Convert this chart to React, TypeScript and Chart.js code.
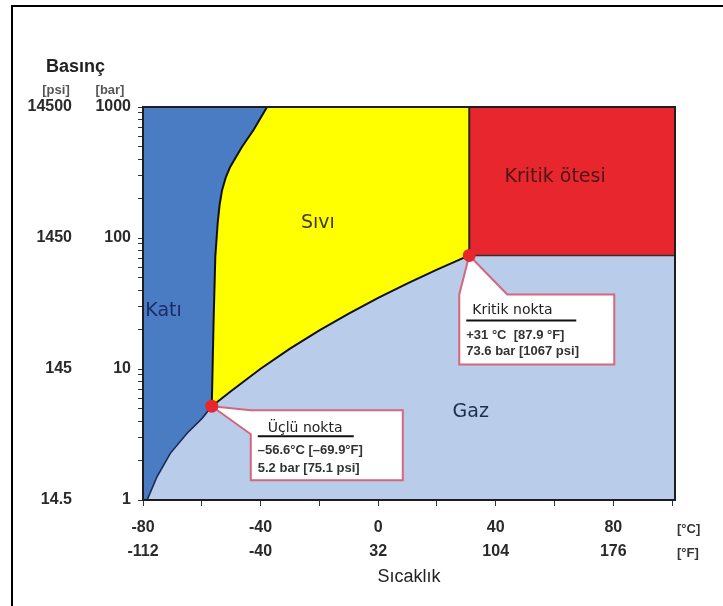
import React, { useEffect, useRef } from 'react';
import { Chart, registerables } from 'chart.js';

Chart.register(...registerables);

// ---------- data ----------
const celsiusTicks = [-80, -40, 0, 40, 80];
const fahrenheitTicks = [-112, -40, 32, 104, 176];
const barTicks = [1, 10, 100, 1000];
const psiTicks = ['14.5', '145', '1450', '14500'];

const sublimationT = [-78.6, -75.2, -70.7, -65.0, -59.9, -56.6];
const sublimationP = [1.0, 1.51, 2.27, 3.23, 4.2, 5.2];
const meltingT = [-56.6, -56.0, -55.4, -54.6, -53.95, -53.1, -51.8, -50.3, -46.3, -42.4, -37.8];
const meltingP = [5.2, 22.3, 72, 129, 178, 232, 292, 350, 498, 667, 1000];
const vaporT = [-56.6, -50, -40, -30, -20, -10, 0, 10, 20, 31];
const vaporP = [5.2, 6.8, 10.05, 14.3, 19.7, 26.5, 34.9, 45.0, 57.3, 73.6];
const triplePoint = { t: -56.6, p: 5.2 };
const criticalPoint = { t: 31, p: 73.6 };
const tempRange = [-80, 101];
const pressRange = [1, 1000];

// ---------- styles ----------
const W = 723;
const H = 606;
const SANS = '"Liberation Sans", Arial, sans-serif';
const DEJAVU = '"DejaVu Sans", sans-serif';
const GAS = '#b9cdea';
const SOLID = '#4a7cc4';
const LIQUID = '#ffff00';
const SUPER = '#e7272d';
const MARK = '#e8262d';
const CALLOUT = '#d3677d';

const pts = (ts: number[], ps: number[]) => ts.map((t, i) => ({ x: t, y: ps[i] }));

function makeDatasets() {
  const [T0, T1] = tempRange;
  const [P0, P1] = pressRange;
  const sub = pts(sublimationT, sublimationP);
  const melt = pts(meltingT, meltingP);
  const vap = pts(vaporT, vaporP);
  const crit = { x: criticalPoint.t, y: criticalPoint.p };
  const trip = { x: triplePoint.t, y: triplePoint.p };
  const polygon = (data: any[], color: string, order: number) => ({
    data, fill: 'shape', backgroundColor: color, borderColor: 'transparent', borderWidth: 0,
    pointRadius: 0, tension: 0, order,
  });
  const curve = (data: any[], color: string, width: number) => ({
    data, fill: false, borderColor: color, borderWidth: width, pointRadius: 0, tension: 0, order: 4,
  });
  return [
    polygon([{ x: T0, y: P0 }, { x: T1, y: P0 }, { x: T1, y: P1 }, { x: T0, y: P1 }], GAS, 10),
    polygon([{ x: T0, y: P0 }, ...sub, ...melt.slice(1), { x: T0, y: P1 }], SOLID, 9),
    polygon([...melt, { x: crit.x, y: P1 }, ...[...vap].reverse()], LIQUID, 8),
    polygon([crit, { x: T1, y: crit.y }, { x: T1, y: P1 }, { x: crit.x, y: P1 }], SUPER, 7),
    curve(sub, '#1b2950', 1.6),
    curve(melt, '#111111', 2),
    curve(vap, '#111111', 2),
    curve([crit, { x: crit.x, y: P1 }], '#2a2020', 2),
    curve([crit, { x: T1, y: crit.y }], '#3a2a2a', 1.5),
    {
      data: [trip, crit], showLine: false, pointRadius: 6.5, pointHoverRadius: 6.5,
      pointBackgroundColor: MARK, pointBorderColor: MARK, pointBorderWidth: 0, order: 0,
    },
  ];
}
const MARKER_INDEX = 9;

function logTicks() {
  const out: { value: number }[] = [];
  for (let e = 0; e < 3; e++) for (let s = 1; s < 10; s++) out.push({ value: s * Math.pow(10, e) });
  out.push({ value: 1000 });
  return out;
}

function drawCallout(ctx: CanvasRenderingContext2D, path: number[][]) {
  ctx.save();
  ctx.beginPath();
  ctx.moveTo(path[0][0], path[0][1]);
  for (let i = 1; i < path.length; i++) ctx.lineTo(path[i][0], path[i][1]);
  ctx.closePath();
  ctx.fillStyle = '#ffffff';
  ctx.fill();
  ctx.strokeStyle = CALLOUT;
  ctx.lineWidth = 2;
  ctx.lineJoin = 'miter';
  ctx.stroke();
  ctx.restore();
}

function calloutText(ctx: CanvasRenderingContext2D, L: number, T: number, title: string, titleDx: number,
  titleDy: number, ulDy: number, ulW: number, l2: string, l2Dy: number, l3: string, l3Dy: number) {
  ctx.save();
  ctx.textBaseline = 'middle';
  ctx.textAlign = 'left';
  ctx.fillStyle = '#222';
  ctx.font = `14px ${DEJAVU}`;
  ctx.fillText(title, L + titleDx, T + titleDy);
  ctx.strokeStyle = '#111';
  ctx.lineWidth = 2;
  ctx.beginPath();
  ctx.moveTo(L + 7, T + ulDy);
  ctx.lineTo(L + 7 + ulW, T + ulDy);
  ctx.stroke();
  ctx.fillStyle = '#333';
  ctx.font = `bold 13px ${SANS}`;
  ctx.fillText(l2, L + 7, T + l2Dy);
  ctx.fillText(l3, L + 7, T + l3Dy);
  ctx.restore();
}

const calloutPlugin = {
  id: 'callouts',
  beforeDatasetDraw(chart: any, args: any) {
    if (args.index !== MARKER_INDEX) return;
    const { ctx } = chart;
    const xs = chart.scales.x;
    const ys = chart.scales.y;
    const cx = xs.getPixelForValue(criticalPoint.t);
    const cy = ys.getPixelForValue(criticalPoint.p);
    let L = cx - 10, T = cy + 39, R = L + 155, B = T + 70;
    drawCallout(ctx, [[cx, cy], [L + 48, T], [R, T], [R, B], [L, B], [L, T]]);
    calloutText(ctx, L, T, 'Kritik nokta', 13, 16, 26, 110, '+31 °C  [87.9 °F]', 41, '73.6 bar [1067 psi]', 57);
    const tx = xs.getPixelForValue(triplePoint.t);
    const ty = ys.getPixelForValue(triplePoint.p);
    L = tx + 39; T = ty + 4; R = L + 152; B = T + 70;
    drawCallout(ctx, [[tx, ty], [L, T], [R, T], [R, B], [L, B], [L, T + 24]]);
    calloutText(ctx, L, T, 'Üçlü nokta', 17, 18, 26, 96, '–56.6°C [–69.9°F]', 40, '5.2 bar [75.1 psi]', 58);
  },
};

const labelPlugin = {
  id: 'labels',
  afterDatasetsDraw(chart: any) {
    const { ctx, chartArea: a } = chart;
    const xs = chart.scales.x;
    const ys = chart.scales.y;
    ctx.save();
    ctx.strokeStyle = '#1e1e1e';
    ctx.lineWidth = 2;
    ctx.strokeRect(a.left, a.top, a.right - a.left, a.bottom - a.top);
    ctx.textBaseline = 'middle';
    ctx.font = `19px ${DEJAVU}`;
    const put = (text: string, t: number, p: number, color: string, align: CanvasTextAlign) => {
      ctx.fillStyle = color;
      ctx.textAlign = align;
      ctx.fillText(text, xs.getPixelForValue(t), ys.getPixelForValue(p));
    };
    put('Katı', -79.2, 27.5, '#1d2b63', 'left');
    put('Sıvı', -20.5, 130, '#3b3b22', 'center');
    put('Kritik ötesi', 60.2, 290, '#4d1515', 'center');
    put('Gaz', 31.5, 4.7, '#1f2d4d', 'center');
    ctx.restore();
  },
  afterDraw(chart: any) {
    const { ctx, chartArea: a } = chart;
    const xs = chart.scales.x;
    ctx.save();
    ctx.strokeStyle = '#000';
    ctx.lineWidth = 2;
    ctx.beginPath();
    ctx.moveTo(12, H);
    ctx.lineTo(12, 6);
    ctx.lineTo(W, 6);
    ctx.stroke();
    ctx.textBaseline = 'middle';
    ctx.textAlign = 'left';
    ctx.fillStyle = '#222';
    ctx.font = `bold 18px ${SANS}`;
    ctx.fillText('Basınç', 46, a.top - 40);
    ctx.fillStyle = '#555';
    ctx.font = `bold 13px ${SANS}`;
    ctx.textAlign = 'center';
    ctx.fillText('[psi]', 56, a.top - 17);
    ctx.fillText('[bar]', 110, a.top - 17);
    ctx.fillStyle = '#333';
    ctx.textAlign = 'left';
    const y1 = xs.top + 6 + 10 + 12;
    ctx.fillText('[°C]', a.right + 2, y1 + 1);
    ctx.fillText('[°F]', a.right + 2, y1 + 25);
    ctx.restore();
  },
};

export default function App() {
  const ref = useRef<HTMLCanvasElement | null>(null);
  useEffect(() => {
    if (!ref.current) return;
    const tickFont = { family: SANS, size: 16, weight: 'bold' as const, lineHeight: 1.5 };
    const chart = new Chart(ref.current, {
      type: 'line',
      data: { datasets: makeDatasets() as any },
      options: {
        animation: false,
        responsive: false,
        events: [],
        layout: { padding: { left: 0, top: 107, right: 48, bottom: 0 } },
        plugins: { legend: { display: false }, tooltip: { enabled: false }, title: { display: false } },
        scales: {
          x: {
            type: 'linear',
            min: tempRange[0],
            max: tempRange[1],
            afterBuildTicks: (s: any) => {
              const t = [];
              for (let v = -80; v <= 100; v += 20) t.push({ value: v });
              s.ticks = t;
            },
            afterFit: (s: any) => { s.height = 106; },
            grid: { display: true, drawOnChartArea: false, drawTicks: true, tickLength: 6, color: '#333', lineWidth: 1 },
            border: { display: true, color: '#1e1e1e', width: 2, z: 1 },
            ticks: {
              autoSkip: false, maxRotation: 0, minRotation: 0, padding: 10, color: '#2a2a2a', font: tickFont,
              callback: (v: any) => {
                const i = celsiusTicks.indexOf(Number(v));
                return i >= 0 ? [String(celsiusTicks[i]), String(fahrenheitTicks[i])] : '';
              },
            },
            title: { display: true, text: 'Sıcaklık', color: '#222', font: { family: SANS, size: 18 }, padding: { top: 0, bottom: 18 } },
          },
          y: {
            type: 'logarithmic',
            position: 'left',
            weight: 0,
            min: pressRange[0],
            max: pressRange[1],
            afterBuildTicks: (s: any) => { s.ticks = logTicks(); },
            afterFit: (s: any) => { s.width = 67; },
            grid: { display: true, drawOnChartArea: false, drawTicks: true, tickLength: 5, color: '#333', lineWidth: 1 },
            border: { display: true, color: '#1e1e1e', width: 2, z: 1 },
            ticks: {
              autoSkip: false, padding: 7, color: '#2a2a2a', font: tickFont,
              callback: (v: any) => (barTicks.includes(Number(v)) ? String(v) : ''),
            },
          },
          yPsi: {
            type: 'logarithmic',
            position: 'left',
            weight: 1,
            min: pressRange[0],
            max: pressRange[1],
            afterBuildTicks: (s: any) => { s.ticks = barTicks.map((v) => ({ value: v })); },
            afterFit: (s: any) => { s.width = 76; },
            grid: { display: false, drawTicks: false },
            border: { display: false },
            ticks: {
              autoSkip: false, padding: 4, color: '#2a2a2a', font: tickFont,
              callback: (v: any) => {
                const i = barTicks.indexOf(Number(v));
                return i >= 0 ? psiTicks[i] : '';
              },
            },
          },
        },
      } as any,
      plugins: [calloutPlugin, labelPlugin],
    });
    return () => chart.destroy();
  }, []);
  return (
    <div style={{ position: 'fixed', left: 0, top: 0, width: W, height: H, background: '#fff' }}>
      <canvas ref={ref} width={W} height={H} style={{ display: 'block' }} />
    </div>
  );
}
